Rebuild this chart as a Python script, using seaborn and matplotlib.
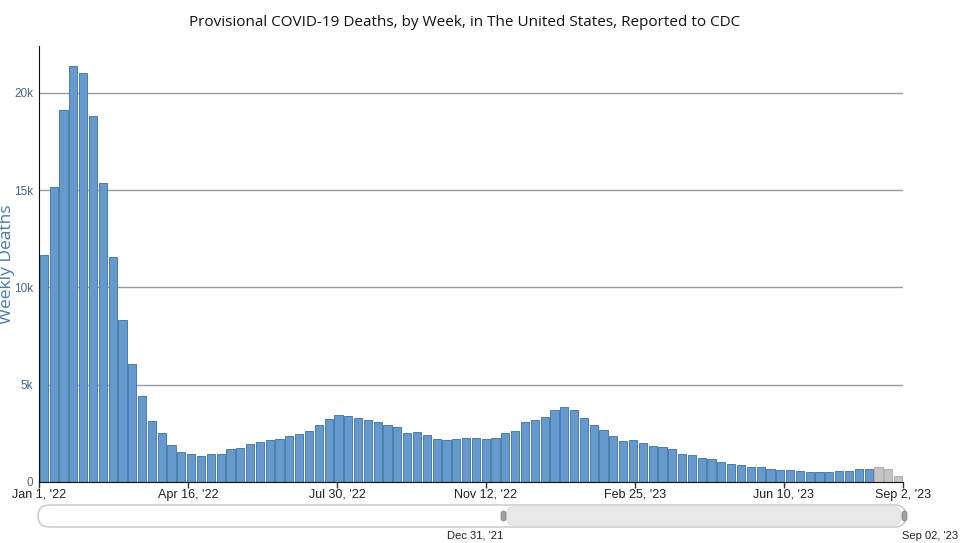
import numpy as np
import pandas as pd
import seaborn as sns
import matplotlib.pyplot as plt
from matplotlib.patches import FancyBboxPatch

# weekly deaths, Jan 1 '22 .. Sep 2 '23
deaths = [11670, 15150, 19100, 21370, 21000, 18780, 15340, 11580, 8310, 6080,
          4420, 3150, 2520, 1920, 1560, 1420, 1350, 1440, 1460, 1700,
          1760, 1950, 2040, 2160, 2210, 2350, 2450, 2610, 2950, 3240,
          3430, 3390, 3310, 3190, 3070, 2950, 2830, 2540, 2570, 2400,
          2210, 2170, 2230, 2260, 2260, 2210, 2280, 2520, 2620, 3070,
          3200, 3340, 3690, 3870, 3700, 3270, 2930, 2660, 2370, 2110,
          2160, 2000, 1870, 1780, 1680, 1460, 1390, 1230, 1200, 1040,
          940, 860, 770, 750, 690, 630, 620, 580, 530, 500,
          510, 550, 550, 650, 690, 750, 670, 290]
n_provisional = 3  # last weeks still incomplete (grey)

tick_labels = ["Jan 1, '22", "Apr 16, '22", "Jul 30, '22", "Nov 12, '22",
               "Feb 25, '23", "Jun 10, '23", "Sep 2, '23"]
tick_weeks = [0, 15, 30, 45, 60, 75, 87]

weeks = pd.date_range("2022-01-01", periods=len(deaths), freq="7D")
df = pd.DataFrame({"week": weeks, "deaths": deaths})
df["status"] = ["final"] * (len(deaths) - n_provisional) + ["provisional"] * n_provisional
df["pos"] = np.arange(len(df))

sns.set_style("white")
plt.rcParams["font.family"] = ["Open Sans", "DejaVu Sans"]

fig = plt.figure(figsize=(9.62, 5.43), dpi=100)
ax = fig.add_axes([39 / 962, 1 - 482 / 543, 864 / 962, 436 / 543])

sns.barplot(data=df, x="pos", y="deaths", hue="status",
            palette={"final": "#6699cc", "provisional": "#c4c4c4"},
            edgecolor="#4a7cae", linewidth=0.7, width=0.84, saturation=1,
            dodge=False, legend=False, ax=ax)
for p, s in zip(ax.patches, df["status"]):
    if s == "provisional":
        p.set_edgecolor("#b0b0b0")

ax.set_xlim(-0.5, len(deaths) - 0.5)
ax.set_ylim(0, 22400)
ax.set_yticks([0, 5000, 10000, 15000, 20000])
ax.set_yticklabels(["0", "5k", "10k", "15k", "20k"], color="#4a6685", fontsize=8.5,
                   family=["Liberation Sans", "DejaVu Sans"])
ax.yaxis.grid(True, color="#9a9a9a", linewidth=1)
ax.set_axisbelow(True)

span = len(deaths) / max(tick_weeks)
ax.set_xticks([-0.5 + w * span for w in tick_weeks])
ax.set_xticklabels(tick_labels, fontsize=9, color="#222222", family=["Liberation Sans", "DejaVu Sans"])
ax.tick_params(axis="x", length=4, width=1, color="#333333", pad=1, direction="out", bottom=True)
ax.tick_params(axis="y", length=0, pad=4)

for side in ["top", "right"]:
    ax.spines[side].set_visible(False)
ax.spines["left"].set_color("#111111")
ax.spines["bottom"].set_color("#111111")
ax.set_xlabel("")
ax.set_ylabel("")

fig.text(7 / 962, 1 - 264 / 543, "Weekly Deaths", rotation=90, ha="center", va="center",
         fontsize=12.5, color="#4d7aa8")
fig.text(465 / 962, 1 - 22 / 543, "Provisional COVID-19 Deaths, by Week, in The United States, Reported to CDC",
         ha="center", va="center", fontsize=11, color="#111111")

# navigator scrollbar under the chart, drawn in pixel units
nav = fig.add_axes([36 / 962, 1 - 529 / 543, 874 / 962, 26 / 543])
nav.set_xlim(0, 874)
nav.set_ylim(0, 26)
nav.axis("off")
nav.add_patch(FancyBboxPatch((2, 2), 868, 22, boxstyle="round,pad=0,rounding_size=11",
                             facecolor="white", edgecolor="#c4c4c4", linewidth=1))
nav.add_patch(FancyBboxPatch((470, 3), 395, 20, boxstyle="round,pad=0,rounding_size=10",
                             facecolor="#e8e8e8", edgecolor="#dddddd", linewidth=0.8))
for hx in [467, 868]:
    nav.add_patch(FancyBboxPatch((hx - 2, 8), 5, 10, boxstyle="round,pad=0,rounding_size=2.5",
                                 facecolor="#a0a0a0", edgecolor="#808080", linewidth=0.5))
fig.text(475 / 962, 1 - 536 / 543, "Dec 31, '21", ha="center", va="center", fontsize=8, color="#222222",
         family=["Liberation Sans", "DejaVu Sans"])
fig.text(930 / 962, 1 - 536 / 543, "Sep 02, '23", ha="center", va="center", fontsize=8, color="#222222",
         family=["Liberation Sans", "DejaVu Sans"])

fig.savefig("out.png", dpi=100)
